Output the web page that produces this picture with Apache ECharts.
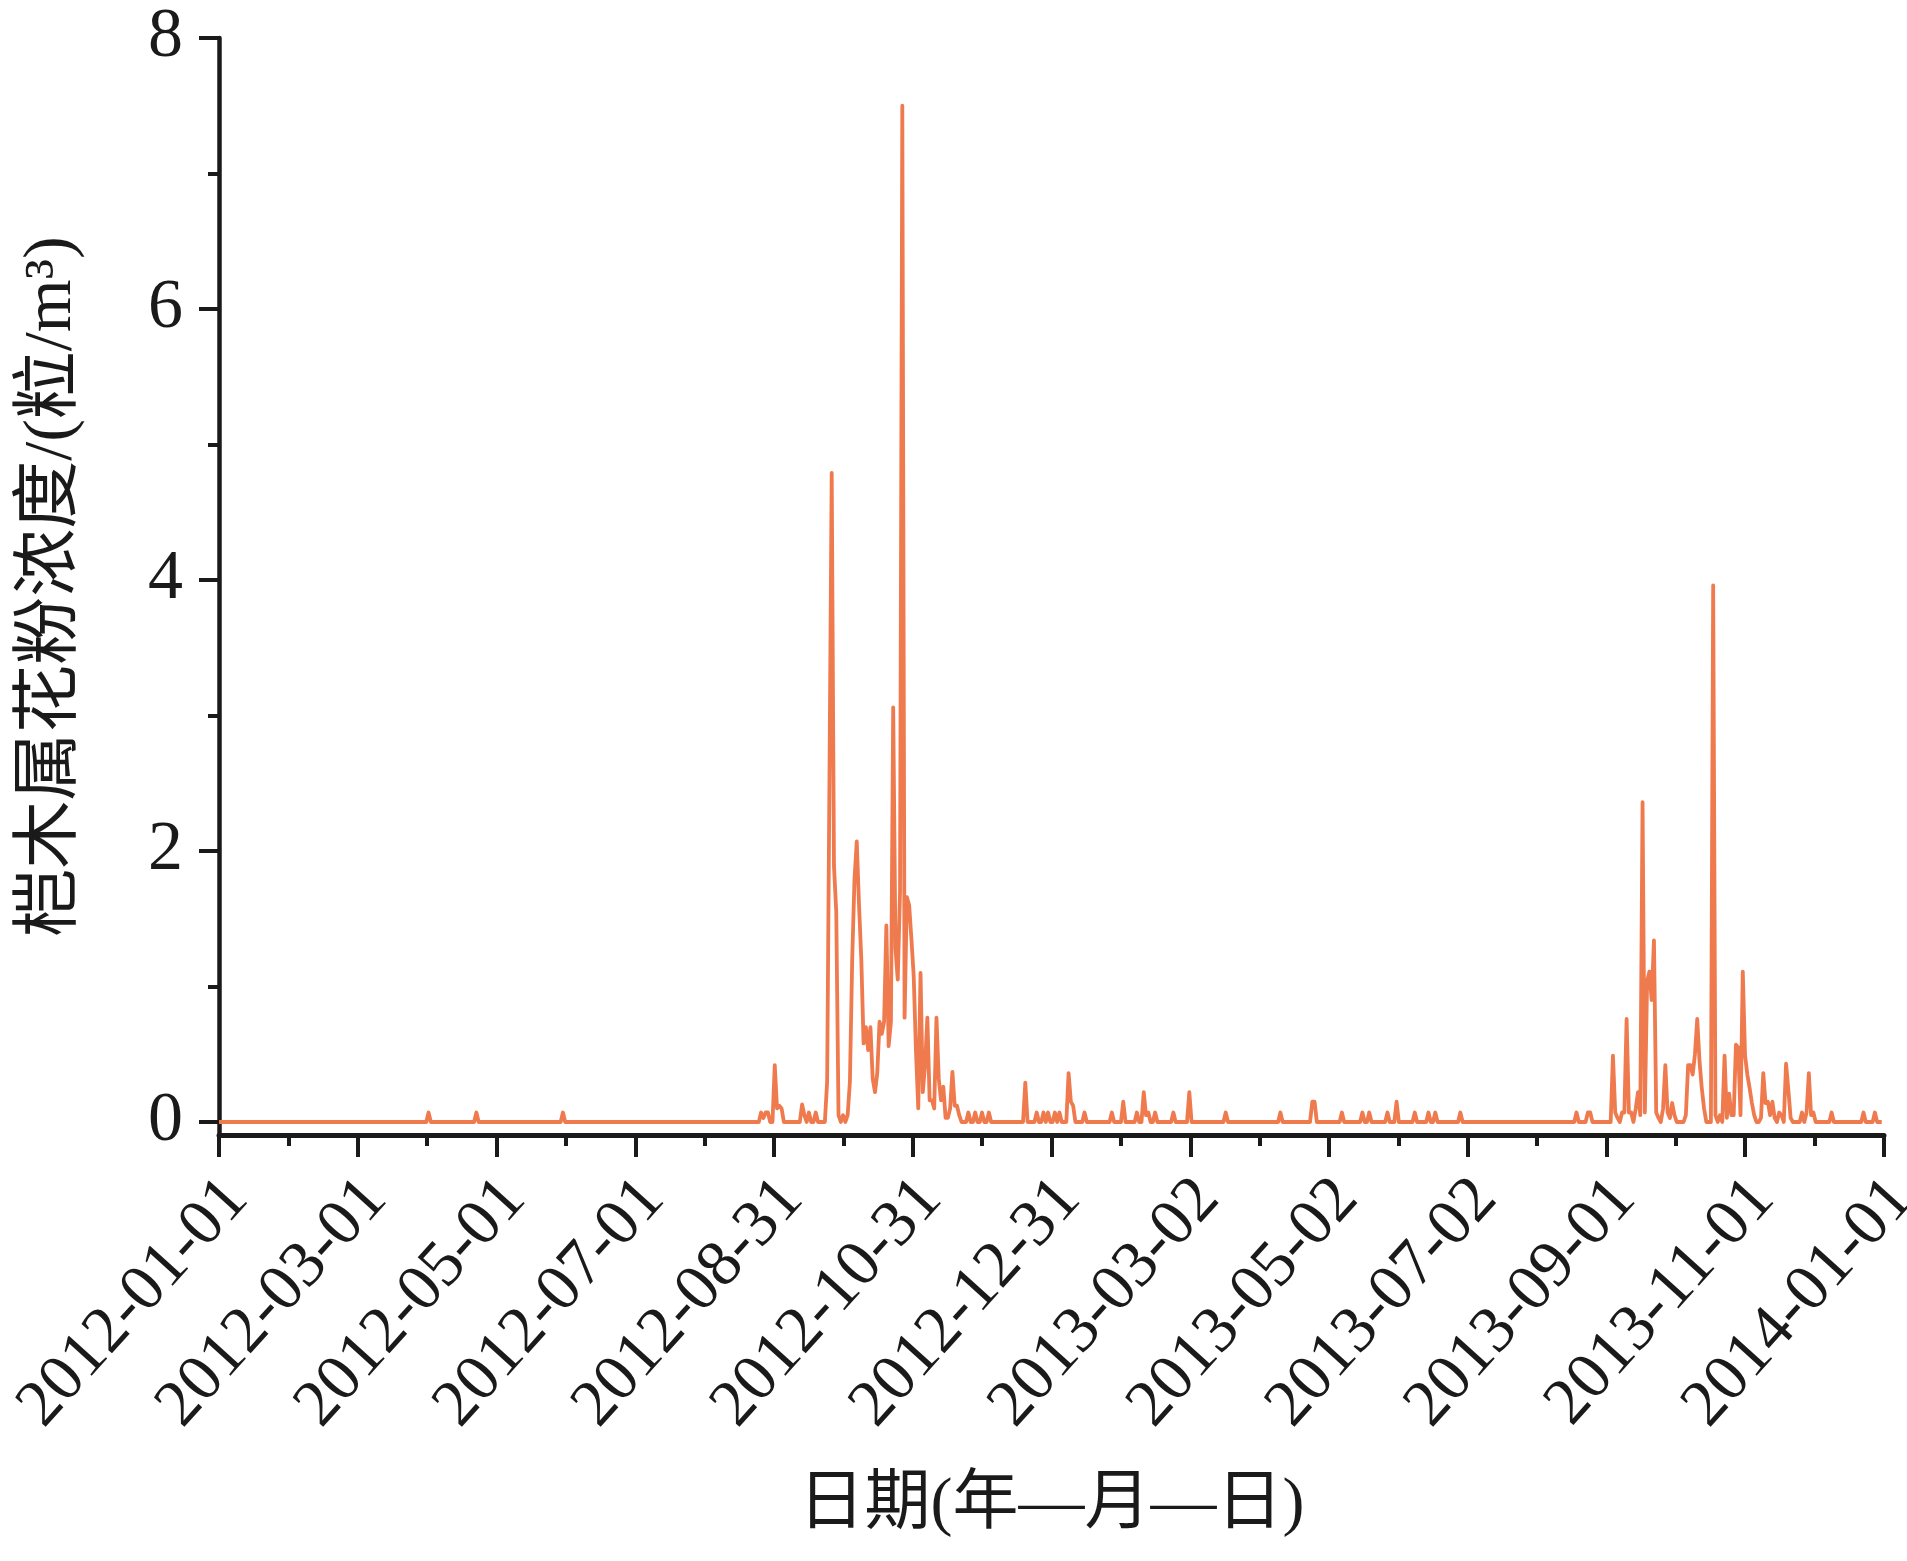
<!DOCTYPE html>
<html>
<head>
<meta charset="utf-8">
<script src="https://cdn.jsdelivr.net/npm/echarts@6/dist/echarts.min.js"></script>
<style>
html,body{margin:0;padding:0;background:#ffffff;}
#chart{width:1907px;height:1561px;}
</style>
</head>
<body>
<div id="chart"></div>
<script>
// ---------------- data ----------------
const firstDate = '2012-01-01';
const lastDate = '2013-12-31';
const axisEndDate = '2014-01-01';

const xTickLabels = ['2012-01-01','2012-03-01','2012-05-01','2012-07-01','2012-08-31','2012-10-31',
  '2012-12-31','2013-03-02','2013-05-02','2013-07-02','2013-09-01','2013-11-01','2014-01-01'];
const yTickValues = [0, 2, 4, 6, 8];
const yMinorTickValues = [1, 3, 5, 7];

// daily Alnus pollen concentration (grains/m3); days not listed read as 0
const readings2012Spring = [
  ['2012-04-02',0.07],['2012-04-23',0.07],['2012-05-31',0.07]
];
const readings2012Autumn = [
  ['2012-08-26',0.07],['2012-08-27',0.03],['2012-08-28',0.07],['2012-08-29',0.07],
  ['2012-09-01',0.42],['2012-09-02',0.1],['2012-09-03',0.12],['2012-09-04',0.1],
  ['2012-09-13',0.13],['2012-09-14',0.05],['2012-09-16',0.07],['2012-09-19',0.07],
  ['2012-09-24',0.3],['2012-09-25',2.5],['2012-09-26',4.79],['2012-09-27',1.89],['2012-09-28',1.55],['2012-09-29',0.05],
  ['2012-10-01',0.05],['2012-10-03',0.05],['2012-10-04',0.3],['2012-10-05',1.2],['2012-10-06',1.79],
  ['2012-10-07',2.07],['2012-10-08',1.6],['2012-10-09',1.2],['2012-10-10',0.58],['2012-10-11',0.7],
  ['2012-10-12',0.53],['2012-10-13',0.7],['2012-10-14',0.32],['2012-10-15',0.22],['2012-10-16',0.36],
  ['2012-10-17',0.74],['2012-10-18',0.65],['2012-10-19',0.74],['2012-10-20',1.45],['2012-10-21',0.56],
  ['2012-10-22',0.74],['2012-10-23',3.06],['2012-10-24',1.28],['2012-10-25',1.05],['2012-10-26',1.7],
  ['2012-10-27',7.5],['2012-10-28',0.77],['2012-10-29',1.66],['2012-10-30',1.6],['2012-10-31',1.35],
  ['2012-11-01',1.08],['2012-11-02',0.52],['2012-11-03',0.1],['2012-11-04',1.1],['2012-11-05',0.22],
  ['2012-11-06',0.42],['2012-11-07',0.77],['2012-11-08',0.16],['2012-11-09',0.16],['2012-11-10',0.1],
  ['2012-11-11',0.77],['2012-11-12',0.32],['2012-11-13',0.16],['2012-11-14',0.26],['2012-11-15',0.03],
  ['2012-11-16',0.03],['2012-11-17',0.1],['2012-11-18',0.37],['2012-11-19',0.12],['2012-11-20',0.12],
  ['2012-11-21',0.05],['2012-11-25',0.07],['2012-11-28',0.07],['2012-12-01',0.07],['2012-12-04',0.07],
  ['2012-12-20',0.29],['2012-12-25',0.07],['2012-12-28',0.07],['2012-12-30',0.07]
];
const readings2013FirstHalf = [
  ['2013-01-02',0.07],['2013-01-04',0.07],['2013-01-08',0.36],['2013-01-09',0.15],['2013-01-10',0.12],
  ['2013-01-15',0.07],['2013-01-27',0.07],['2013-02-01',0.15],['2013-02-07',0.07],['2013-02-10',0.22],
  ['2013-02-11',0.05],['2013-02-12',0.07],['2013-02-15',0.07],['2013-02-23',0.07],['2013-03-02',0.22],
  ['2013-03-18',0.07],['2013-04-11',0.07],['2013-04-25',0.15],['2013-04-26',0.15],['2013-05-08',0.07],
  ['2013-05-17',0.07],['2013-05-20',0.07],['2013-05-28',0.07],['2013-06-01',0.15],['2013-06-09',0.07],
  ['2013-06-15',0.07],['2013-06-18',0.07],['2013-06-29',0.07]
];
const readings2013Autumn = [
  ['2013-08-19',0.07],['2013-08-24',0.07],['2013-08-25',0.07],
  ['2013-09-04',0.49],['2013-09-05',0.07],['2013-09-06',0.03],['2013-09-08',0.07],['2013-09-09',0.07],
  ['2013-09-10',0.76],['2013-09-11',0.07],['2013-09-12',0.07],['2013-09-14',0.1],['2013-09-15',0.22],
  ['2013-09-16',0.05],['2013-09-17',2.36],['2013-09-18',0.07],['2013-09-19',1.04],['2013-09-20',1.11],
  ['2013-09-21',0.9],['2013-09-22',1.34],['2013-09-23',0.07],['2013-09-24',0.03],['2013-09-26',0.1],
  ['2013-09-27',0.42],['2013-09-28',0.07],['2013-09-29',0.03],['2013-09-30',0.14],['2013-10-01',0.05],
  ['2013-10-06',0.05],['2013-10-07',0.42],['2013-10-08',0.42],['2013-10-09',0.35],['2013-10-10',0.5],
  ['2013-10-11',0.76],['2013-10-12',0.45],['2013-10-13',0.25],['2013-10-14',0.1],['2013-10-18',3.96],
  ['2013-10-19',0.05],['2013-10-21',0.05],['2013-10-23',0.49],['2013-10-24',0.03],['2013-10-25',0.21],
  ['2013-10-26',0.05],['2013-10-27',0.05],['2013-10-28',0.57],['2013-10-29',0.55],['2013-10-30',0.05],
  ['2013-10-31',1.11],['2013-11-01',0.49],['2013-11-02',0.35],['2013-11-03',0.25],['2013-11-04',0.14],
  ['2013-11-05',0.05],['2013-11-08',0.03],['2013-11-09',0.36],['2013-11-10',0.14],['2013-11-11',0.15],
  ['2013-11-12',0.05],['2013-11-13',0.15],['2013-11-14',0.03],['2013-11-16',0.07],['2013-11-17',0.05],
  ['2013-11-19',0.43],['2013-11-20',0.24],['2013-11-21',0.03],['2013-11-26',0.07],['2013-11-28',0.07],
  ['2013-11-29',0.36],['2013-11-30',0.05],['2013-12-01',0.07],['2013-12-09',0.07],['2013-12-23',0.07],
  ['2013-12-28',0.07]
];

const xAxisTitle = '日期(年—月—日)';
const yAxisTitle = '桤木属花粉浓度/(粒/m³)';

// ---------------- build ----------------
const DAY_MS = 86400000;
function toUTC(s){ const p = s.split('-').map(Number); return Date.UTC(p[0], p[1]-1, p[2]); }
const t0 = toUTC(firstDate);
function dayIndex(s){ return Math.round((toUTC(s) - t0) / DAY_MS); }

const nDays = dayIndex(lastDate) + 1;
const axisDays = dayIndex(axisEndDate);
const daily = new Array(nDays).fill(0);
[readings2012Spring, readings2012Autumn, readings2013FirstHalf, readings2013Autumn].forEach(list => {
  list.forEach(([d, v]) => { daily[dayIndex(d)] = v; });
});
const seriesData = daily.map((v, i) => [i, v]);

const INK = '#1a1a1a';
const LINE = '#EE7A4E';
const serif = "'Liberation Serif','Times New Roman',serif";
const cjk = "'Liberation Serif','Noto Sans CJK SC',serif";
const yMin = -0.096;   // puts the x-axis line a little below the zero level, as in the original
const xInterval = axisDays / (xTickLabels.length - 1);

const chart = echarts.init(document.getElementById('chart'), null, {renderer: 'canvas'});
chart.setOption({
  animation: false,
  backgroundColor: '#ffffff',
  grid: {left: 219, right: 23, top: 38, bottom: 426, containLabel: false, outerBoundsMode: 'none'},
  xAxis: {
    type: 'value',
    min: 0,
    max: axisDays,
    interval: xInterval,
    name: xAxisTitle,
    nameLocation: 'middle',
    nameGap: 338,
    nameMoveOverlap: false,
    nameTextStyle: {fontFamily: cjk, fontSize: 66, color: INK},
    axisLine: {show: true, onZero: false, lineStyle: {color: INK, width: 5}},
    axisTick: {show: true, length: 22, lineStyle: {color: INK, width: 4}},
    minorTick: {show: true, splitNumber: 2, length: 11, lineStyle: {color: INK, width: 4}},
    splitLine: {show: false},
    minorSplitLine: {show: false},
    axisLabel: {
      show: true,
      rotate: 48,
      margin: 24,
      align: 'right',
      verticalAlign: 'top',
      padding: [0, 10, 0, 0],
      fontFamily: serif,
      fontSize: 66,
      color: INK,
      showMinLabel: true,
      showMaxLabel: true,
      hideOverlap: false,
      formatter: function (v) {
        const k = Math.round(v / xInterval);
        return xTickLabels[k] !== undefined ? xTickLabels[k] : '';
      }
    }
  },
  yAxis: [{
    type: 'value',
    position: 'left',
    min: yMin,
    max: 8,
    name: yAxisTitle,
    nameLocation: 'middle',
    nameGap: 133,
    nameRotate: 90,
    nameMoveOverlap: false,
    nameTextStyle: {fontFamily: cjk, fontSize: 68, color: INK},
    axisLine: {show: true, onZero: false, lineStyle: {color: INK, width: 4.5}},
    axisTick: {show: true, length: 20, customValues: yTickValues, lineStyle: {color: INK, width: 4}},
    axisLabel: {show: true, customValues: yTickValues, margin: 36, fontFamily: serif, fontSize: 70, color: INK},
    splitLine: {show: false}
  }, {
    type: 'value',
    position: 'left',
    offset: 0,
    min: yMin,
    max: 8,
    axisLine: {show: false},
    axisTick: {show: true, length: 11, customValues: yMinorTickValues, lineStyle: {color: INK, width: 4}},
    axisLabel: {show: false},
    splitLine: {show: false}
  }],
  series: [{
    type: 'line',
    yAxisIndex: 0,
    data: seriesData,
    showSymbol: false,
    symbol: 'none',
    silent: true,
    lineStyle: {color: LINE, width: 3.8, join: 'round'}
  }]
});
</script>
</body>
</html>
